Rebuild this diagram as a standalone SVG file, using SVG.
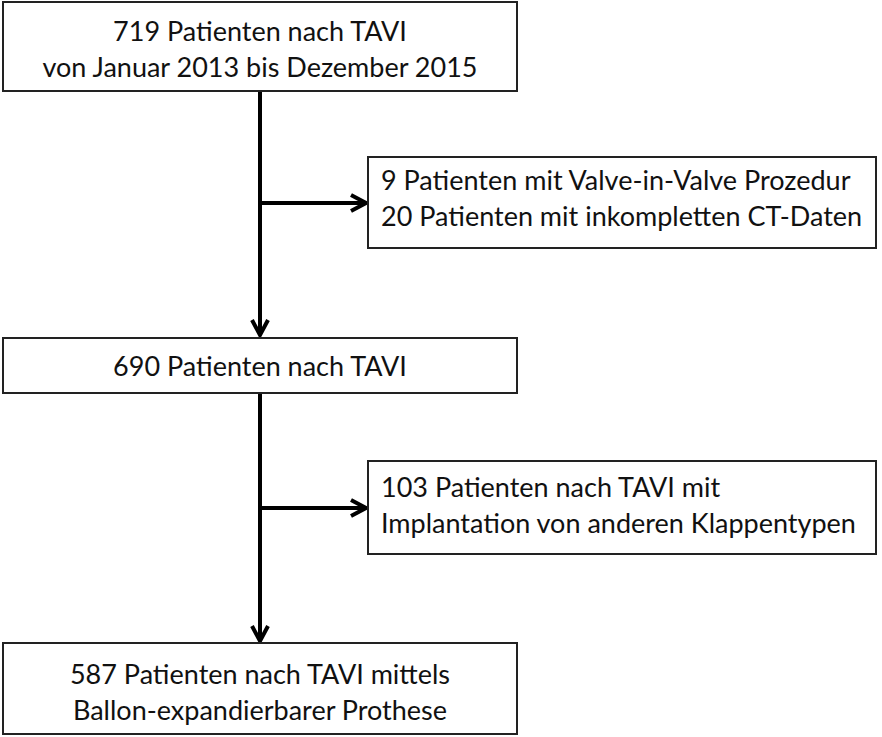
<svg xmlns="http://www.w3.org/2000/svg" width="882" height="737" viewBox="0 0 882 737">
<defs>
<style>
.box{fill:#fff;stroke:#222;stroke-width:2}
.t{font-family:Lato,"Liberation Sans",sans-serif;font-size:27px;fill:#111}
.c{text-anchor:middle}
.ln{stroke:#000;stroke-width:4;fill:none}
</style>
<marker id="a" viewBox="0 0 20 20" refX="18" refY="10" markerWidth="20" markerHeight="20" markerUnits="userSpaceOnUse" orient="auto">
<path d="M3,2 L18,10 L3,18" fill="none" stroke="#000" stroke-width="4" stroke-linejoin="miter"/>
</marker>
</defs>
<g id="connectors">
<path class="ln" d="M260,92 V335" marker-end="url(#a)"/>
<path class="ln" d="M260,203 H366" marker-end="url(#a)"/>
<path class="ln" d="M260,393 V641" marker-end="url(#a)"/>
<path class="ln" d="M260,508 H366" marker-end="url(#a)"/>
</g>
<g id="n1">
<rect class="box" x="3" y="2" width="514" height="89"/>
<text class="t c" x="260" y="41">719 Patienten nach TAVI</text>
<text class="t c" x="260" y="77">von Januar 2013 bis Dezember 2015</text>
</g>
<g id="n2">
<rect class="box" x="368" y="157" width="508" height="91"/>
<text class="t" x="381" y="190">9 Patienten mit Valve-in-Valve Prozedur</text>
<text class="t" x="381" y="226">20 Patienten mit inkompletten CT-Daten</text>
</g>
<g id="n3">
<rect class="box" x="3" y="338" width="514" height="55"/>
<text class="t c" x="260" y="376">690 Patienten nach TAVI</text>
</g>
<g id="n4">
<rect class="box" x="368" y="461" width="508" height="93"/>
<text class="t" x="381" y="497">103 Patienten nach TAVI mit</text>
<text class="t" x="381" y="533">Implantation von anderen Klappentypen</text>
</g>
<g id="n5">
<rect class="box" x="3" y="643" width="514" height="91"/>
<text class="t c" x="260" y="684">587 Patienten nach TAVI mittels</text>
<text class="t c" x="260" y="720">Ballon-expandierbarer Prothese</text>
</g>
</svg>
